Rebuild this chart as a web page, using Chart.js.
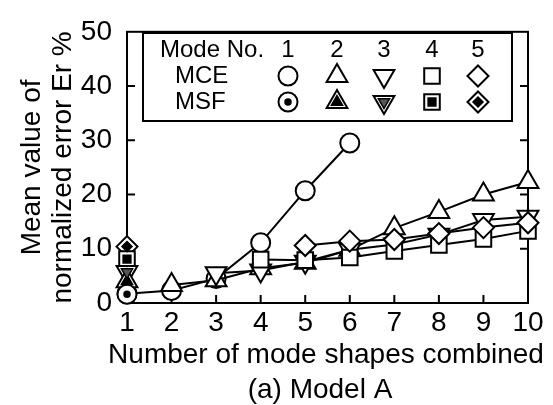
<!DOCTYPE html>
<html>
<head>
<meta charset="utf-8">
<script src="https://cdn.jsdelivr.net/npm/chart.js@4.4.1/dist/chart.umd.min.js"></script>
<style>
  body { margin: 0; background: #fff; }
  #wrap { width: 553px; height: 405px; }
</style>
</head>
<body>
<div id="wrap"><canvas id="errorChart"></canvas></div>
<script>
const modeShapes = ["1", "2", "3", "4", "5", "6", "7", "8", "9", "10"];
const yTicks = [0, 10, 20, 30, 40, 50];

// MCE, one array per mode (mode k starts at k combined shapes)
const mceMode1 = [1.7, 2.3, 4.5, 11.1, 20.7, 29.5, null, null, null, null];
const mceMode2 = [null, 3.3, 4.2, 6.4, 7.4, 9.8, 13.8, 16.8, 20.0, 22.3];
const mceMode3 = [null, null, 5.5, 6.0, 7.6, 9.8, 10.8, 12.6, 15.3, 15.9];
const mceMode4 = [null, null, null, 8.0, 7.9, 8.4, 9.6, 10.7, 11.8, 13.3];
const mceMode5 = [null, null, null, null, 10.6, 11.4, 11.7, 12.8, 13.9, 14.8];

// MSF, one value per mode at one combined shape
const msfModes = [1.6, 4.0, 5.7, 8.1, 10.4];

const modeLabels = ["1", "2", "3", "4", "5"];
const xTitle = ["Number of mode shapes combined", "(a) Model A"];
const yTitle = ["Mean value of", "normalized error Er %"];

const markers = [
    { style: "circle", rotation: 0, radius: 9.5 },
    { style: "triangle", rotation: 0, radius: 12 },
    { style: "triangle", rotation: 180, radius: 12 },
    { style: "rect", rotation: 0, radius: 11 },
    { style: "rectRot", rotation: 0, radius: 10.5 }
];
const innerMarkers = [
    { style: "circle", rotation: 0, radius: 3, fill: "#000" },
    { style: "triangle", rotation: 0, radius: 6.5, fill: "#000" },
    { style: "triangle", rotation: 180, radius: 6.5, fill: "#555" },
    { style: "rect", rotation: 0, radius: 5.5, fill: "#000" },
    { style: "rectRot", rotation: 0, radius: 5, fill: "#000" }
];

const FONT = "'Liberation Sans', Arial, sans-serif";

function mark(ctx, m, x, y, fill, lw) {
    ctx.save();
    ctx.fillStyle = fill;
    ctx.strokeStyle = "#000";
    ctx.lineWidth = lw;
    Chart.helpers.drawPoint(ctx, { pointStyle: m.style, rotation: m.rotation, radius: m.radius, borderWidth: lw }, x, y);
    ctx.restore();
}

const mceSeries = [mceMode1, mceMode2, mceMode3, mceMode4, mceMode5];

// higher modes sit on top, MSF points on top of everything
const datasets = mceSeries.map((vals, i) => ({
    label: "MCE " + (i + 1),
    data: vals,
    order: 10 - i,
    borderColor: "#000",
    borderWidth: 2,
    pointStyle: markers[i].style,
    pointRotation: markers[i].rotation,
    pointRadius: markers[i].radius,
    pointHoverRadius: markers[i].radius,
    pointBackgroundColor: "#fff",
    pointBorderColor: "#000",
    pointBorderWidth: 2,
    tension: 0,
    clip: false
}));

msfModes.forEach((v, i) => {
    datasets.push({
        label: "MSF " + (i + 1),
        data: modeShapes.map((s, j) => (j === 0 ? v : null)),
        order: 0,
        showLine: false,
        pointStyle: markers[i].style,
        pointRotation: markers[i].rotation,
        pointRadius: markers[i].radius,
        pointHoverRadius: markers[i].radius,
        pointBackgroundColor: "#fff",
        pointBorderColor: "#000",
        pointBorderWidth: 2,
        clip: false,
        msfIndex: i
    });
});

const framePlugin = {
    id: "frame",
    beforeDatasetsDraw(chart) {
        const { ctx, chartArea: a, scales } = chart;
        ctx.save();
        ctx.strokeStyle = "#000";
        ctx.lineWidth = 2;
        ctx.strokeRect(a.left, a.top, a.right - a.left, a.bottom - a.top);
        ctx.beginPath();
        yTicks.slice(1, -1).forEach(v => {
            const y = scales.y.getPixelForValue(v);
            ctx.moveTo(a.left, y); ctx.lineTo(a.left + 8, y);
            ctx.moveTo(a.right - 8, y); ctx.lineTo(a.right, y);
        });
        modeShapes.slice(1, -1).forEach((s, i) => {
            const x = scales.x.getPixelForValue(i + 1);
            ctx.moveTo(x, a.bottom); ctx.lineTo(x, a.bottom - 8);
            ctx.moveTo(x, a.top); ctx.lineTo(x, a.top + 8);
        });
        ctx.stroke();

        // x axis title, drawn without the scale's width squeeze
        ctx.fillStyle = "#000";
        ctx.font = "28px " + FONT;
        ctx.textAlign = "center";
        ctx.textBaseline = "middle";
        ctx.fillText(xTitle[0], 326, 355);
        ctx.fillText(xTitle[1], 320, 390);
        ctx.restore();
    },
    afterDatasetsDraw(chart) {
        const ctx = chart.ctx;
        // inner marks of the MSF points
        chart.data.datasets.forEach((ds, di) => {
            if (ds.msfIndex === undefined) return;
            const pt = chart.getDatasetMeta(di).data[0];
            mark(ctx, innerMarkers[ds.msfIndex], pt.x, pt.y, innerMarkers[ds.msfIndex].fill, 1.5);
        });

        // legend table
        const box = { l: 143, t: 33, r: 512, b: 121 };
        const cols = [288, 337, 384, 432, 478];
        const rows = [50, 76, 102];
        ctx.save();
        ctx.fillStyle = "#fff";
        ctx.fillRect(box.l, box.t, box.r - box.l, box.b - box.t);
        ctx.strokeStyle = "#000";
        ctx.lineWidth = 2;
        ctx.strokeRect(box.l, box.t, box.r - box.l, box.b - box.t);
        ctx.fillStyle = "#000";
        ctx.font = "24px " + FONT;
        ctx.textBaseline = "middle";
        ctx.textAlign = "left";
        ctx.fillText("Mode No.", 160, rows[0]);
        ctx.fillText("MCE", 175, rows[1]);
        ctx.fillText("MSF", 175, rows[2]);
        ctx.textAlign = "center";
        modeLabels.forEach((t, i) => ctx.fillText(t, cols[i], rows[0]));
        ctx.restore();
        markers.forEach((m, i) => {
            mark(ctx, m, cols[i], rows[1], "#fff", 2);
            mark(ctx, m, cols[i], rows[2], "#fff", 2);
            mark(ctx, innerMarkers[i], cols[i], rows[2], innerMarkers[i].fill, 1.5);
        });
    }
};

new Chart(document.getElementById("errorChart"), {
    type: "line",
    data: { labels: modeShapes, datasets },
    options: {
        responsive: true,
        maintainAspectRatio: false,
        animation: false,
        devicePixelRatio: 1,
        layout: { padding: { left: 0, right: 25, top: 16, bottom: 0 } },
        plugins: { legend: { display: false }, tooltip: { enabled: false } },
        scales: {
            x: {
                type: "category",
                offset: false,
                grid: { display: false, drawTicks: false },
                border: { display: false },
                ticks: { color: "#000", font: { family: FONT, size: 28 }, padding: 3, maxRotation: 0, autoSkip: false },
                afterFit(scale) { scale.height = 102; }
            },
            y: {
                min: 0,
                max: 50,
                grid: { display: false, drawTicks: false },
                border: { display: false },
                afterBuildTicks(scale) { scale.ticks = yTicks.map(v => ({ value: v })); },
                ticks: { color: "#000", font: { family: FONT, size: 28 }, padding: 15 },
                title: {
                    display: true,
                    text: yTitle,
                    color: "#000",
                    font: { family: FONT, size: 28, lineHeight: 1.1 },
                    padding: { top: 17, bottom: 0 }
                },
                afterFit(scale) { scale.width = 127; }
            }
        }
    },
    plugins: [framePlugin]
});
</script>
</body>
</html>
